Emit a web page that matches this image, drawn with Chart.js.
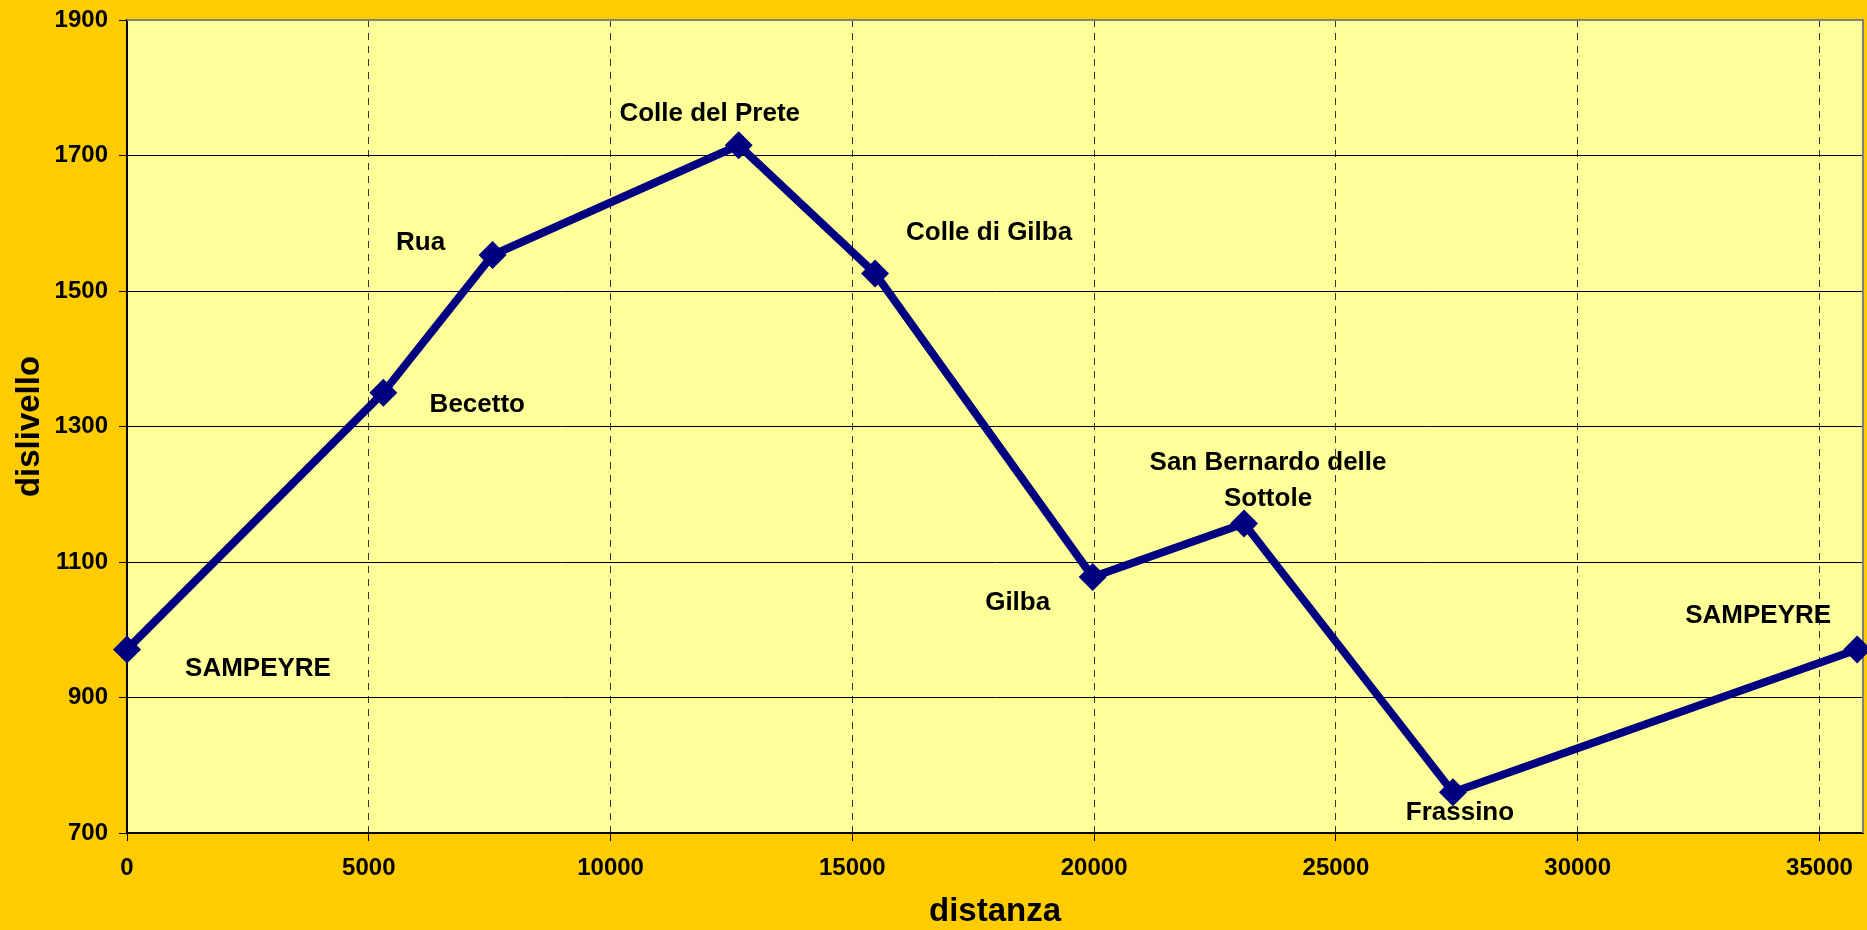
<!DOCTYPE html>
<html>
<head>
<meta charset="utf-8">
<script src="https://cdn.jsdelivr.net/npm/chart.js@4/dist/chart.umd.min.js"></script>
<style>
  html, body { margin: 0; padding: 0; background: #FFCC00; }
  #wrap { width: 1867px; height: 930px; }
</style>
</head>
<body>
<div id="wrap"><canvas id="profilo" width="1867" height="930"></canvas></div>
<script>
// dati del percorso
const distanze = [0, 5300, 7560, 12650, 15470, 19970, 23100, 27420, 35780];
const quote = [971, 1350, 1553, 1715, 1526, 1078, 1157, 760, 971];
const localita = ["SAMPEYRE", "Becetto", "Rua", "Colle del Prete", "Colle di Gilba", "Gilba", "San Bernardo delle|Sottole", "Frassino", "SAMPEYRE"];
const xTicks = [0, 5000, 10000, 15000, 20000, 25000, 30000, 35000];
const yTicks = [700, 900, 1100, 1300, 1500, 1700, 1900];

// spostamento delle etichette rispetto al punto (px)
const spostamenti = [[131, 19], [94, 12], [-72, -12], [-29, -32], [114, -41], [-75, 26], [24, -61], [7, 20], [-99, -34]];

const FONT = "'Liberation Sans', Arial, sans-serif";

// sfondo giallo + area del grafico
const sfondo = {
  id: "sfondo",
  beforeDraw(chart) {
    const { ctx, chartArea: a } = chart;
    ctx.save();
    ctx.fillStyle = "#FFCC00";
    ctx.fillRect(0, 0, chart.width, chart.height);
    ctx.fillStyle = "#FFFF99";
    ctx.fillRect(a.left, a.top, a.right - a.left, a.bottom - a.top);
    ctx.restore();
  },
  beforeDatasetsDraw(chart) {
    const { ctx, chartArea: a } = chart;
    ctx.save();
    ctx.strokeStyle = "#808080";
    ctx.lineWidth = 2;
    ctx.beginPath();
    ctx.moveTo(a.left, a.top);
    ctx.lineTo(a.right, a.top);
    ctx.lineTo(a.right, a.bottom);
    ctx.stroke();
    ctx.restore();
  }
};

// nomi delle località
const etichette = {
  id: "etichette",
  afterDatasetsDraw(chart) {
    const { ctx } = chart;
    const pts = chart.getDatasetMeta(0).data;
    ctx.save();
    ctx.font = "bold 26px " + FONT;
    ctx.fillStyle = "#000";
    ctx.textAlign = "center";
    ctx.textBaseline = "middle";
    localita.forEach((nome, i) => {
      const righe = nome.split("|");
      const [dx, dy] = spostamenti[i];
      righe.forEach((r, j) => {
        ctx.fillText(r, pts[i].x + dx, pts[i].y + dy + j * 36);
      });
    });
    ctx.restore();
  }
};

new Chart(document.getElementById("profilo"), {
  type: "scatter",
  data: {
    datasets: [{
      data: distanze.map((d, i) => ({ x: d, y: quote[i] })),
      showLine: true,
      borderColor: "#000080",
      backgroundColor: "#000080",
      borderWidth: 8,
      pointStyle: "rectRot",
      pointRadius: 14,
      pointHoverRadius: 14,
      pointBorderWidth: 0,
      clip: false
    }]
  },
  options: {
    responsive: false,
    animation: false,
    layout: { autoPadding: false, padding: { top: 20, right: 4, left: 0, bottom: 0 } },
    plugins: {
      legend: { display: false },
      tooltip: { enabled: false }
    },
    scales: {
      x: {
        type: "linear",
        min: 0,
        max: 35900,
        afterBuildTicks: s => { s.ticks = xTicks.map(v => ({ value: v })); },
        afterFit: s => { s.height = 97; s.paddingLeft = 0; s.paddingRight = 0; },
        ticks: {
          color: "#000",
          padding: 13,
          maxRotation: 0,
          callback: v => String(v),
          font: { family: FONT, size: 24, weight: "bold" }
        },
        grid: {
          color: "#333",
          lineWidth: 1,
          tickLength: 8,
          tickColor: "#000",
          tickBorderDash: []
        },
        border: { display: true, color: "#000", width: 2, dash: [7, 6] },
        title: {
          display: true,
          text: "distanza",
          color: "#000",
          padding: 0,
          font: { family: FONT, size: 33, weight: "bold", lineHeight: 1.1 }
        }
      },
      y: {
        min: 700,
        max: 1900,
        afterBuildTicks: s => { s.ticks = yTicks.map(v => ({ value: v })); },
        afterFit: s => { s.width = 127; s.paddingTop = 0; s.paddingBottom = 0; },
        ticks: {
          color: "#000",
          padding: 11,
          callback: v => String(v),
          font: { family: FONT, size: 24, weight: "bold" }
        },
        grid: {
          color: "#000",
          lineWidth: 1,
          tickLength: 8,
          tickColor: "#000"
        },
        border: { display: true, color: "#000", width: 2 },
        title: {
          display: true,
          text: "dislivello",
          color: "#000",
          padding: 10,
          font: { family: FONT, size: 33, weight: "bold", lineHeight: 1.2 }
        }
      }
    }
  },
  plugins: [sfondo, etichette]
});
</script>
</body>
</html>
